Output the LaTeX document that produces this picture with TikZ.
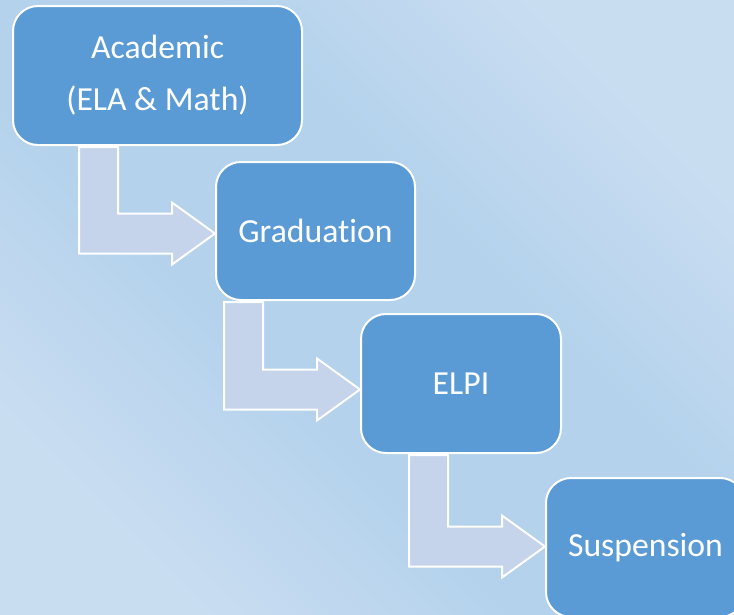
\documentclass[tikz,border=0pt]{standalone}
\usepackage{fontspec}
\setmainfont[Ligatures={NoCommon}]{Carlito}
\usetikzlibrary{calc}
\definecolor{boxblue}{HTML}{5B9BD5}
\definecolor{arrowfill}{HTML}{C5D4EA}
\definecolor{bglight}{HTML}{C9DDF1}
\definecolor{bgmid}{HTML}{B4D2EC}
\pgfdeclareverticalshading{bgshade}{100bp}{color(0bp)=(bglight); color(25bp)=(bglight);
  color(42bp)=(bgmid); color(58bp)=(bgmid); color(75bp)=(bglight); color(100bp)=(bglight)}
% #1 source node, #2 target node, #3 vertical offset (down, pt) of the bar centre
\newcommand\bentarrow[3]{%
  \draw[bentarrowstyle] let \p1=(#2.west), \p2=(#1.south) in
    (\x1-136pt,\y2-1pt) -- (\x1-97pt,\y2-1pt) -- (\x1-97pt,\y1-#3pt+20pt)
    -- (\x1-43pt,\y1-#3pt+20pt) -- (\x1-43pt,\y1-#3pt+31pt) -- (\x1,\y1-#3pt)
    -- (\x1-43pt,\y1-#3pt-31pt) -- (\x1-43pt,\y1-#3pt-20pt)
    -- (\x1-136pt,\y1-#3pt-20pt) -- cycle;}
\begin{document}
\begin{tikzpicture}[x=1pt,y=-1pt,
  stepbox/.style={draw=white, line width=2pt, fill=boxblue, rounded corners=25pt,
    text=white, font=\fontsize{33.7}{52}\selectfont, inner sep=0pt, align=center},
  bentarrowstyle/.style={draw=white, line width=2pt, fill=arrowfill, line join=miter}]
\useasboundingbox (0,0) rectangle (734,614);
\clip (0,0) rectangle (734,614);
\shade[shading=bgshade, shading angle=-45]
  (0pt,0pt) rectangle (734pt,-614pt);
\node[stepbox, minimum width=289pt, minimum height=139pt] (a) at (157.5,75.5) {Academic\\(ELA \& Math)};
\node[stepbox, minimum width=199pt, minimum height=138pt] (b) at (315.5,231) {Graduation};
\node[stepbox, minimum width=200pt, minimum height=139pt] (c) at (461,383.5) {ELPI};
\node[stepbox, minimum width=199pt, minimum height=139pt] (d) at (645.5,547.5) {Suspension};
\bentarrow{a}{b}{2.5}
\bentarrow{b}{c}{6}
\bentarrow{c}{d}{-1}
\end{tikzpicture}
\end{document}
